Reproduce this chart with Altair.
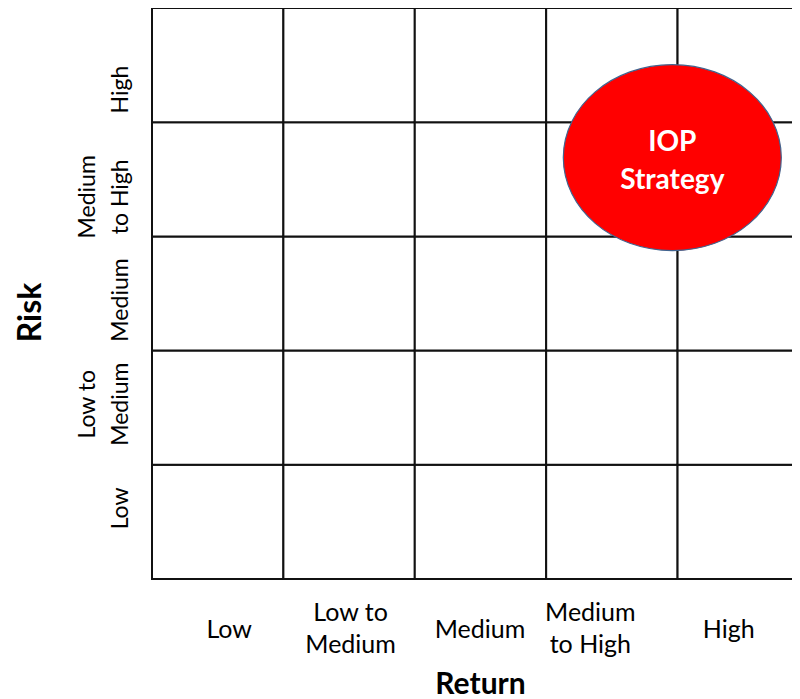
import altair as alt
import pandas as pd

# Categories (bottom-to-top for risk, left-to-right for return); "|" marks a line break
return_levels = ["Low", "Low to|Medium", "Medium", "Medium|to High", "High"]
risk_levels = ["Low", "Low to|Medium", "Medium", "Medium|to High", "High"]

# The highlighted strategy (position in category units)
strategy_name = ["IOP\nStrategy"]
strategy_return = [3.96]
strategy_risk = [3.69]

cells = pd.DataFrame(
    [{"x": i, "x2": i + 1, "y": j, "y2": j + 1}
     for i in range(len(return_levels)) for j in range(len(risk_levels))]
)
strategy = pd.DataFrame({"name": strategy_name, "ret": strategy_return, "risk": strategy_risk})

def label_expr(levels):
    arr = "[" + ",".join("'" + s + "'" for s in levels) + "]"
    return f"split({arr}[floor(datum.value)], '|')"

def per_label(levels, values, default):
    conds = [{"test": f"datum.value == {i + 0.5}", "value": v}
             for i, v in enumerate(values) if v != default]
    return {"condition": conds, "value": default}

# label nudges (styling, in pixels) so that the labels sit as in the reference
x_label_shift = [11, 1, -1, -22, -15]
y_label_shift = [-14, -4, 6, 17, 24]
x_label_pad = [50 if "|" not in s else 33 for s in return_levels]
y_label_pad = [20 if "|" not in s else 53 for s in risk_levels]

FONT = "Lato"
# the reference crops the last column at the right edge of the picture
xscale = alt.Scale(domain=[0, 4.871], nice=False, zero=False)
yscale = alt.Scale(domain=[0, 5], nice=False, zero=False)

x_axis = alt.Axis(
    values=[i + 0.5 for i in range(len(return_levels))],
    labelExpr=label_expr(return_levels),
    domain=False, ticks=False, grid=False, tickSize=0,
    labelFont=FONT, labelFontSize=25, labelColor="#000",
    labelBaseline="middle", labelAlign="center",
    labelPadding=per_label(return_levels, x_label_pad, 50),
    labelOffset=per_label(return_levels, x_label_shift, 0),
    labelLineHeight=32, labelOverlap=False, labelBound=False, labelFlush=False,
    title="Return", titleFont=FONT, titleFontSize=30, titleFontWeight="bold",
    titleColor="#000", titleX=328, titleY=114, titleAlign="center",
    titleBaseline="alphabetic",
)
y_axis = alt.Axis(
    values=[j + 0.5 for j in range(len(risk_levels))],
    labelExpr=label_expr(risk_levels),
    domain=False, ticks=False, grid=False, tickSize=0,
    labelFont=FONT, labelFontSize=23, labelColor="#000",
    labelAngle=270, labelAlign="center", labelBaseline="bottom",
    labelPadding=per_label(risk_levels, y_label_pad, 20),
    labelOffset=per_label(risk_levels, y_label_shift, 0),
    labelLineHeight=33, labelOverlap=False, labelBound=False, labelFlush=False,
    title="Risk", titleFont=FONT, titleFontSize=32, titleFontWeight="bold",
    titleColor="#000", titleAngle=270, titleX=-122, titleY=304,
    titleAlign="center", titleBaseline="middle",
)

grid = alt.Chart(cells).mark_rect(fill="white", stroke="#111", strokeWidth=2).encode(
    x=alt.X("x:Q", scale=xscale, axis=x_axis),
    x2="x2:Q",
    y=alt.Y("y:Q", scale=yscale, axis=y_axis),
    y2="y2:Q",
)

k = 0.5523
ry = 0.853
ellipse_path = (
    f"M-1,0C-1,{-k*ry:.4f},{-k:.4f},{-ry},0,{-ry}"
    f"C{k:.4f},{-ry},1,{-k*ry:.4f},1,0"
    f"C1,{k*ry:.4f},{k:.4f},{ry},0,{ry}"
    f"C{-k:.4f},{ry},-1,{k*ry:.4f},-1,0Z"
)
bubble = alt.Chart(strategy).mark_point(
    shape=ellipse_path, size=47524, filled=True, fill="#ff0000",
    stroke="#41648f", strokeWidth=1.2, opacity=1,
).encode(
    x=alt.X("ret:Q", scale=xscale),
    y=alt.Y("risk:Q", scale=yscale),
)

label = alt.Chart(strategy).mark_text(
    font=FONT, fontSize=28, fontWeight="bold", color="white",
    lineBreak="\n", lineHeight=38, baseline="middle", align="center", dy=-15,
).encode(
    x=alt.X("ret:Q", scale=xscale),
    y=alt.Y("risk:Q", scale=yscale),
    text="name:N",
)

chart = (grid + bubble + label).properties(
    width=640, height=571,
    autosize=alt.AutoSizeParams(type="none"),
    padding={"left": 144, "top": 0, "right": 0, "bottom": 120},
    background="white",
).configure_view(stroke=None)

chart.save("out.html", embed_options={"renderer": "svg", "actions": False})
